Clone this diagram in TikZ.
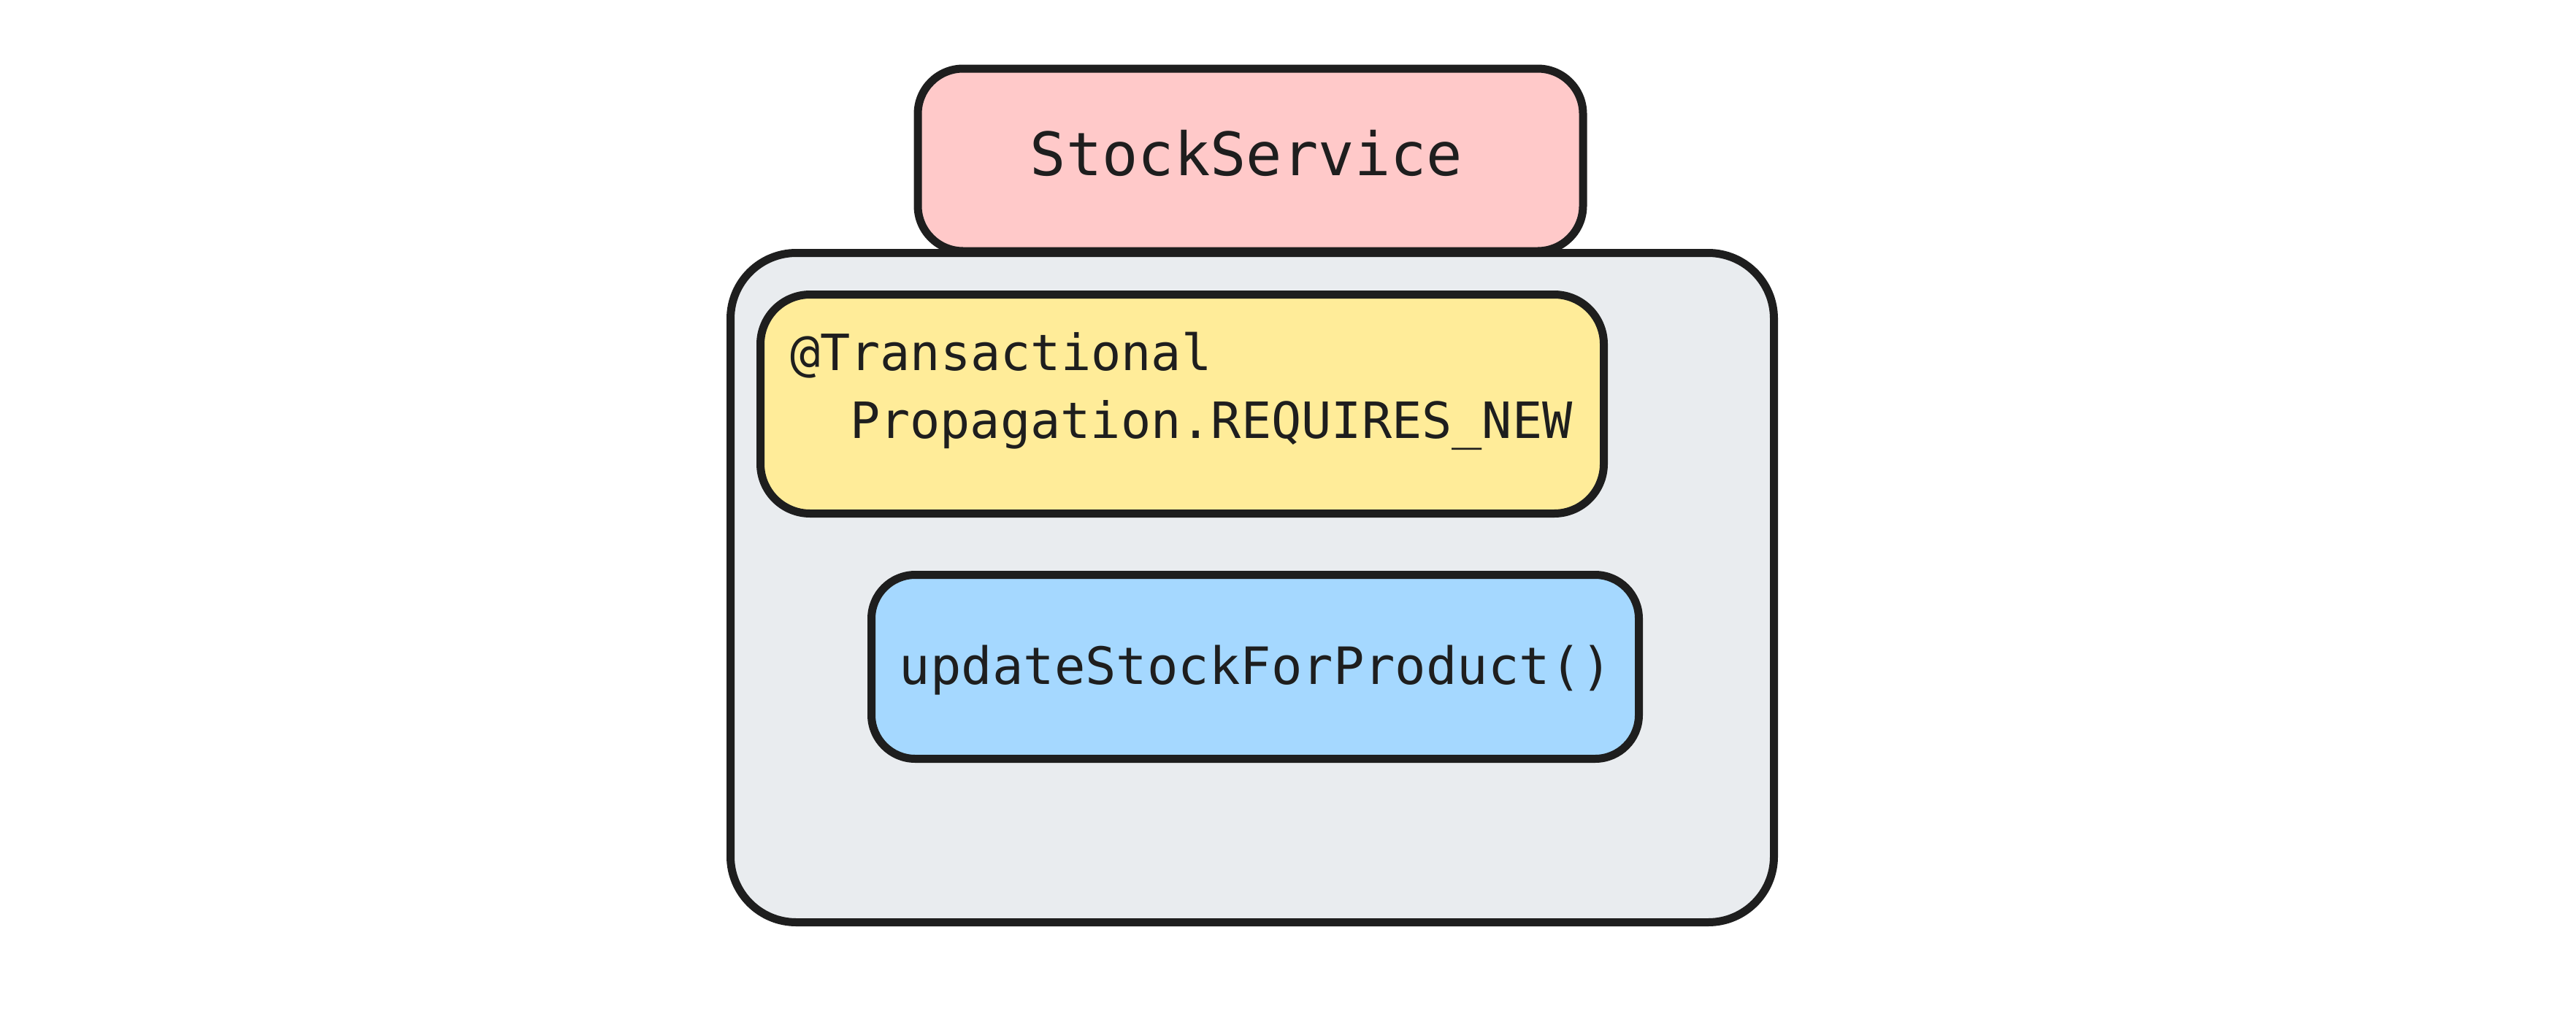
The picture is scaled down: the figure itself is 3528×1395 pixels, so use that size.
\documentclass[tikz,border=0pt]{standalone}
\usepackage{fontspec}
\setmonofont{DejaVu Sans Mono}
\definecolor{strokec}{HTML}{1E1E1E}
\definecolor{pinkc}{HTML}{FFC9C9}
\definecolor{grayc}{HTML}{E9ECEF}
\definecolor{yellowc}{HTML}{FFEC99}
\definecolor{bluec}{HTML}{A5D8FF}
\tikzset{
  box/.style={draw=strokec, line width=11pt, rectangle, inner sep=0pt, outer sep=0pt},
  lbl/.style={inner sep=0pt, outer sep=0pt, text=strokec, font=\ttfamily}
}
\begin{document}
\begin{tikzpicture}[x=1pt,y=-1pt]
\useasboundingbox[fill=white] (0,0) rectangle (3528,1395);
\node[box, fill=grayc, rounded corners=90pt, minimum width=1429pt, minimum height=917pt] (outer) at (1715,805) {};
\node[box, fill=pinkc, rounded corners=62pt, minimum width=911pt, minimum height=250pt] (svc) at (1712.5,219) {};
\node[box, fill=yellowc, rounded corners=68pt, minimum width=1155pt, minimum height=300pt] (tx) at (1619,553.5) {};
\node[box, fill=bluec, rounded corners=60pt, minimum width=1051pt, minimum height=252pt] (upd) at (1719,913.5) {};
\node[lbl, anchor=base, font=\ttfamily\fontsize{82}{98}\selectfont] (svct) at (1707,240) {StockService};
\node[lbl, anchor=base west, font=\ttfamily\fontsize{68.5}{82}\selectfont] (tx1) at (1082,507) {@Transactional};
\node[lbl, anchor=base west, font=\ttfamily\fontsize{68.5}{82}\selectfont] (tx2) at (1164,600) {Propagation.REQUIRES\_NEW};
\node[lbl, anchor=base, font=\ttfamily\fontsize{70.5}{85}\selectfont] (updt) at (1720,937) {updateStockForProduct()};
\end{tikzpicture}
\end{document}
